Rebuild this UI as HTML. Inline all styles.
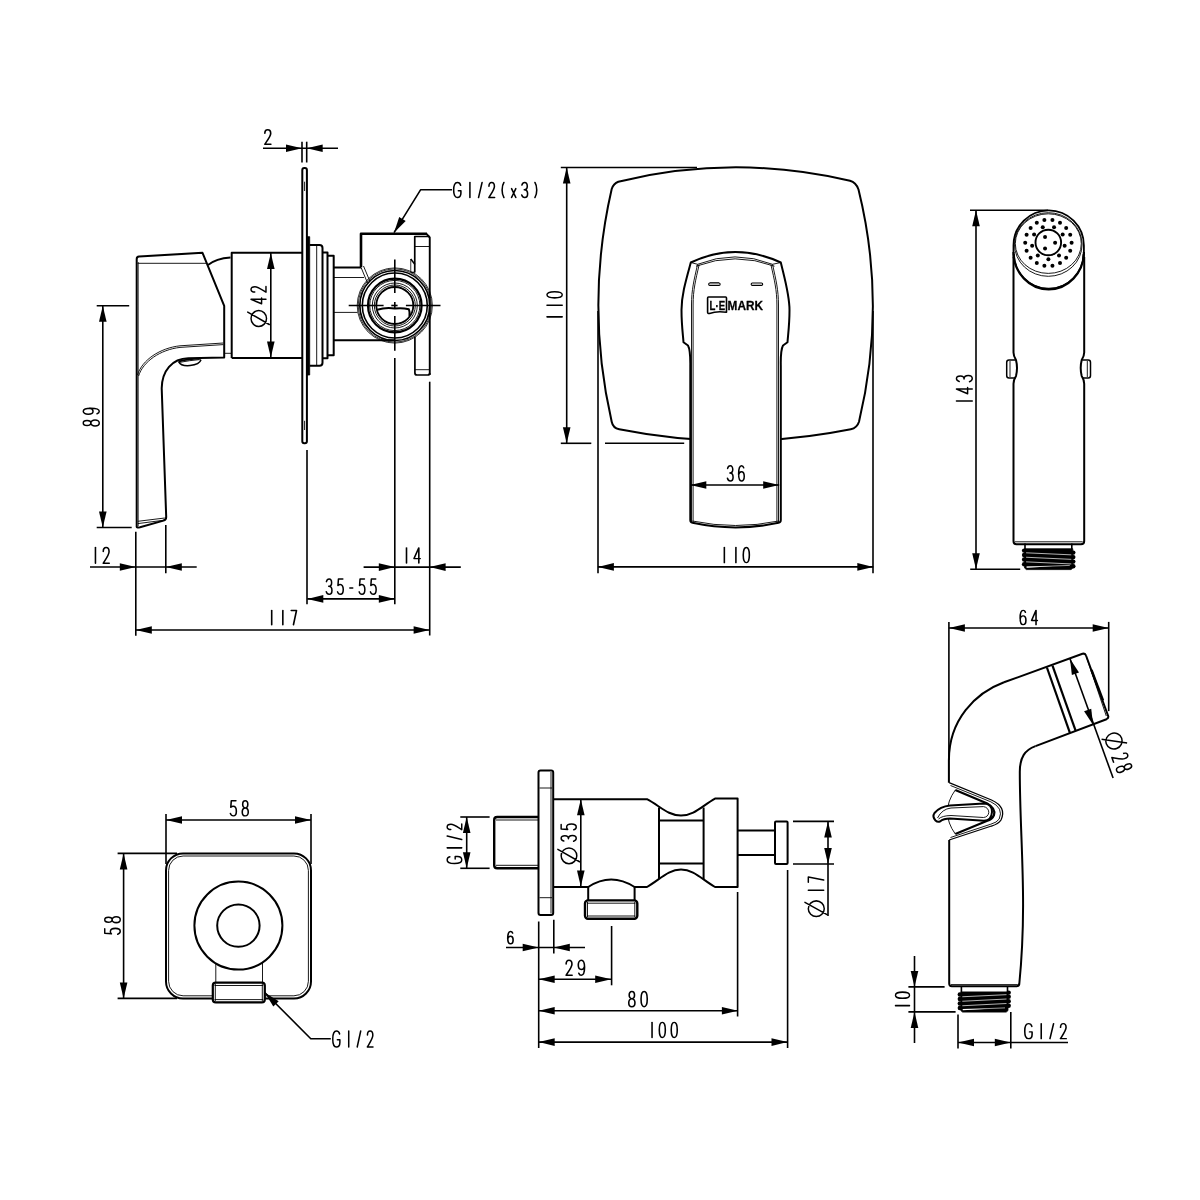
<!DOCTYPE html>
<html><head><meta charset="utf-8"><style>
html,body{margin:0;padding:0;background:#fff;width:1200px;height:1200px;overflow:hidden;font-family:"Liberation Sans",sans-serif;}
svg{display:block}
</style></head><body>
<svg width="1200" height="1200" viewBox="0 0 1200 1200">
<rect x="0" y="0" width="1200" height="1200" fill="#fff"/>
<g fill="none" stroke="#000" stroke-linecap="butt" stroke-linejoin="round">
<path d="M263,148.3 L338,148.3" stroke-width="1.6"/>
<path d="M302.00,148.30 L286.00,152.10 L286.00,144.50 Z" fill="#000" stroke="none"/>
<path d="M306.70,148.30 L322.70,144.50 L322.70,152.10 Z" fill="#000" stroke="none"/>
<path d="M302,141.7 L302,162.5" stroke-width="1.6"/>
<path d="M306.7,141.7 L306.7,162.5" stroke-width="1.6"/>
<g transform="translate(264.57,129.75) rotate(0) scale(1.0875,0.9062)" stroke-width="1.511" stroke-linecap="round"><g id="t0"><path transform="translate(0.00,0)" d="M0.249,4C0.249,1.5,1.33,0,2.9,0C4.56,0,5.64,1.5,5.64,4.2C5.64,7,4.56,8.5,0.166,16H5.81"/></g></g>
<rect x="302.3" y="168" width="4.6" height="275.3" rx="2" stroke-width="2.0"/>
<path d="M304.6,181.7 L304.6,191" stroke-width="0.9"/>
<path d="M304.6,420.8 L304.6,430" stroke-width="0.9"/>
<path d="M136.7,527 L136.7,259 Q136.7,256.7 139,256.6 L202.5,252.8 L224.2,305.8 L224.2,357.5 L188.3,358.3 C172,358.6 162,371 161.7,388.3 L166.2,517 Q166.2,520 163.5,520.6 L140,527.3 Q136.8,528 136.7,527 Z" stroke-width="2.0"/>
<path d="M137.5,263.3 L206.5,263.3" stroke-width="0.9"/>
<path d="M208,265 Q216,258.5 230.5,257.5" stroke-width="2.0"/>
<path d="M224.2,353.3 L231.7,353.3" stroke-width="0.9"/>
<path d="M223.3,343 L180,345.8 C160,348 142,360 137.5,375" stroke-width="0.9"/>
<path d="M223.3,344.6 L180,347.4 C160.5,349.6 143,361.5 138.6,376" stroke-width="0.9"/>
<path d="M178.6,361.6 Q181,366.5 190,365.6 Q199.5,364.6 201,359.8" stroke-width="1.5"/>
<path d="M180,362.3 Q189,360.5 199.5,359.6" stroke-width="0.9"/>
<path d="M178.6,361.6 Q186,359 201,358.6" stroke-width="1.8"/>
<path d="M137.8,521.3 L164.8,518.0" stroke-width="0.9"/>
<path d="M137.8,523.6 L164,520.2" stroke-width="0.9"/>
<path d="M138.3,262 V526" stroke-width="0.7"/>
<path d="M231.7,358 V252.8 H302.3" stroke-width="2.0"/>
<path d="M231.7,358 H302.3" stroke-width="2.0"/>
<path d="M270.8,253 L270.8,357.5" stroke-width="1.6"/>
<path d="M270.80,253.00 L274.60,269.00 L267.00,269.00 Z" fill="#000" stroke="none"/>
<path d="M270.80,357.50 L267.00,341.50 L274.60,341.50 Z" fill="#000" stroke="none"/>
<g transform="translate(251.02,326.50) rotate(-90) scale(0.9960,0.9348)" stroke-width="1.555" stroke-linecap="round"><g id="t1"><path transform="translate(0.00,0)" d="M8,0 C3.6,0 0,3.8 0,8.3 C0,12.8 3.6,16.6 8,16.6 C12.4,16.6 16,12.8 16,8.3 C16,3.8 12.4,0 8,0 Z M2,19.5 L14.5,-3.5"/><path transform="translate(22.80,0)" d="M4.48,16V0L0,11.3H5.81"/><path transform="translate(34.30,0)" d="M0.249,4C0.249,1.5,1.33,0,2.9,0C4.56,0,5.64,1.5,5.64,4.2C5.64,7,4.56,8.5,0.166,16H5.81"/></g></g>
<path d="M306.9,236.7 H309.7 V375 H306.9 Z" fill="#000" stroke="#000" stroke-width="0.8"/>
<path d="M309.7,245 H319.5 Q322.5,245 322.5,248 V362.8 Q322.5,365.8 319.5,365.8 H309.7" stroke-width="2.0"/>
<path d="M316.7,245 L316.7,365.8" stroke-width="0.9"/>
<path d="M322.5,252.5 H327.5 V358.3 H322.5" stroke-width="2.0"/>
<path d="M327.5,255.8 H333.7 V355.3 H327.5" stroke-width="2.0"/>
<path d="M333.7,267.5 H361" stroke-width="2.0"/>
<path d="M333.7,277.5 L364,277.5" stroke-width="0.9"/>
<path d="M333.7,312.4 L357.5,312.4" stroke-width="0.9"/>
<path d="M333.7,340.3 H395" stroke-width="2.0"/>
<path d="M361,267.3 L367.5,283" stroke-width="0.9"/>
<path d="M363.5,266 L370,281.5" stroke-width="0.9"/>
<path d="M361,267.3 V233.8 H427" stroke-width="2.6"/>
<path d="M426.5,233.8 L429.75,237.5 V375" stroke-width="1.9"/>
<path d="M414.75,272.5 V236.5 H429.75" stroke-width="1.7"/>
<path d="M414.75,246.5 L429.75,246.5" stroke-width="0.9"/>
<path d="M411,272.3 H414.75" stroke-width="1.2"/>
<path d="M414.9,336.5 V373 Q414.9,375 417,375 H427.7 Q429.75,375 429.75,373" stroke-width="1.7"/>
<path d="M415,369.7 L429.5,369.7" stroke-width="0.9"/>
<path d="M410.75,259 L415,264.5" stroke-width="1.5"/>
<path d="M410.75,259 V272" stroke-width="0.8"/>
<circle cx="394.8" cy="305.5" r="37.6" stroke-width="0.8"/>
<circle cx="394.8" cy="305.5" r="36.6" stroke-width="0.8"/>
<circle cx="394.8" cy="305.5" r="35.0" stroke-width="1.7"/>
<circle cx="394.8" cy="305.5" r="32.5" stroke-width="1.6"/>
<circle cx="394.8" cy="305.5" r="26.8" stroke-width="2.2"/>
<circle cx="394.8" cy="305.5" r="25.1" stroke-width="0.9"/>
<circle cx="394.8" cy="305.5" r="22.5" stroke-width="0.9"/>
<circle cx="394.8" cy="305.5" r="20.5" stroke-width="0.9"/>
<circle cx="394.8" cy="305.5" r="18.5" stroke-width="1.8"/>
<path d="M377.2,309.8 Q386,307 394.9,308.5 Q402,307.5 408.8,309.2 Q410,312 409.5,316" stroke-width="2.0"/>
<path d="M348.7,305.5 L383.6,305.5" stroke-width="1.6"/>
<path d="M391.3,305.5 L397.6,305.5" stroke-width="1.6"/>
<path d="M405.9,305.5 L440.5,305.5" stroke-width="1.6"/>
<path d="M394.8,259.6 L394.8,293" stroke-width="1.6"/>
<path d="M394.8,302 L394.8,309" stroke-width="1.6"/>
<path d="M394.8,316 L394.8,350.8" stroke-width="1.6"/>
<path d="M394.8,358 L394.8,604.3" stroke-width="1.6"/>
<path d="M452,189.7 H420.7 L394,232.7" stroke-width="1.6"/>
<path d="M394.00,232.70 L399.21,217.10 L405.67,221.11 Z" fill="#000" stroke="none"/>
<g transform="translate(453.65,182.45) rotate(0) scale(1.0159,0.9438)" stroke-width="1.532" stroke-linecap="round"><g id="t2"><path transform="translate(0.00,0)" d="M6.89,3C6.47,1,5.29,0,3.61,0C1.26,0,0,3,0,8C0,13,1.26,16,3.61,16C5.71,16,7.14,14.5,7.14,11.5V8.8H4.62"/><path transform="translate(12.00,0)" d="M4,0 V16"/><path transform="translate(23.00,0)" d="M1.5,16 L5,0"/><path transform="translate(34.50,0)" d="M0.249,4C0.249,1.5,1.33,0,2.9,0C4.56,0,5.64,1.5,5.64,4.2C5.64,7,4.56,8.5,0.166,16H5.81"/><path transform="translate(46.00,0)" d="M3.5,0 C1.1,4 1.1,12 3.5,16"/><path transform="translate(57.00,0)" d="M0,6.5 L4.2,16 M4.2,6.5 L0,16"/><path transform="translate(67.00,0)" d="M0.166,2.8C0.664,0.9,1.66,0,2.9,0C4.48,0,5.48,1.6,5.48,4C5.48,6.3,4.4,7.7,2.49,7.7C4.56,7.7,5.81,9.5,5.81,12C5.81,14.6,4.56,16,2.9,16C1.49,16,0.498,15,0,13.2"/><path transform="translate(78.50,0)" d="M1.5,0 C3.9,4 3.9,12 1.5,16"/></g></g>
<path d="M307,450 L307,604.3" stroke-width="1.6"/>
<path d="M429.7,381.7 L429.7,635.5" stroke-width="1.6"/>
<path d="M135.8,531.7 L135.8,635.8" stroke-width="1.6"/>
<path d="M165.8,525 L165.8,573.3" stroke-width="1.6"/>
<path d="M102.8,305.8 L102.8,527.5" stroke-width="1.6"/>
<path d="M96.7,305.8 L129.2,305.8" stroke-width="1.6"/>
<path d="M96.7,527.5 L131.7,527.5" stroke-width="1.6"/>
<path d="M102.80,305.80 L106.60,321.80 L99.00,321.80 Z" fill="#000" stroke="none"/>
<path d="M102.80,527.50 L99.00,511.50 L106.60,511.50 Z" fill="#000" stroke="none"/>
<g transform="translate(83.25,425.95) rotate(-90) scale(1.0225,1.0000)" stroke-width="1.483" stroke-linecap="round"><g id="t3"><path transform="translate(0.00,0)" d="M2.9,7.6C1.41,7.6,0.415,6.1,0.415,3.8C0.415,1.5,1.41,0,2.9,0C4.4,0,5.39,1.5,5.39,3.8C5.39,6.1,4.4,7.6,2.9,7.6C1.16,7.6,0,9.3,0,11.8C0,14.4,1.16,16,2.9,16C4.65,16,5.81,14.4,5.81,11.8C5.81,9.3,4.65,7.6,2.9,7.6Z"/><path transform="translate(11.50,0)" d="M0.498,13.8C0.913,15.2,1.74,16,2.82,16C4.73,16,5.81,13,5.81,7.5C5.81,2.4,4.65,0,2.9,0C1.16,0,0,1.9,0,5C0,8,1.16,9.8,2.9,9.8C4.32,9.8,5.39,8.5,5.81,6.5"/></g></g>
<path d="M90,567 L196.7,567" stroke-width="1.6"/>
<path d="M135.80,567.00 L119.80,570.80 L119.80,563.20 Z" fill="#000" stroke="none"/>
<path d="M165.80,567.00 L181.80,563.20 L181.80,570.80 Z" fill="#000" stroke="none"/>
<g transform="translate(91.14,547.50) rotate(0) scale(1.0773,0.9844)" stroke-width="1.457" stroke-linecap="round"><g id="t4"><path transform="translate(0.00,0)" d="M4,0 V16"/><path transform="translate(11.00,0)" d="M0.249,4C0.249,1.5,1.33,0,2.9,0C4.56,0,5.64,1.5,5.64,4.2C5.64,7,4.56,8.5,0.166,16H5.81"/></g></g>
<path d="M363.6,567.1 L460.8,567.1" stroke-width="1.6"/>
<path d="M394.80,567.10 L378.80,570.90 L378.80,563.30 Z" fill="#000" stroke="none"/>
<path d="M429.60,567.10 L445.60,563.30 L445.60,570.90 Z" fill="#000" stroke="none"/>
<g transform="translate(402.21,547.85) rotate(0) scale(1.0734,0.9500)" stroke-width="1.485" stroke-linecap="round"><g id="t5"><path transform="translate(0.00,0)" d="M4,0 V16"/><path transform="translate(11.00,0)" d="M4.48,16V0L0,11.3H5.81"/></g></g>
<path d="M307.3,598.9 L394.8,598.9" stroke-width="1.6"/>
<path d="M307.30,598.90 L323.30,595.10 L323.30,602.70 Z" fill="#000" stroke="none"/>
<path d="M394.80,598.90 L378.80,602.70 L378.80,595.10 Z" fill="#000" stroke="none"/>
<g transform="translate(326.25,578.95) rotate(0) scale(0.9821,0.9625)" stroke-width="1.543" stroke-linecap="round"><g id="t6"><path transform="translate(0.00,0)" d="M0.166,2.8C0.664,0.9,1.66,0,2.9,0C4.48,0,5.48,1.6,5.48,4C5.48,6.3,4.4,7.7,2.49,7.7C4.56,7.7,5.81,9.5,5.81,12C5.81,14.6,4.56,16,2.9,16C1.49,16,0.498,15,0,13.2"/><path transform="translate(11.50,0)" d="M5.39,0H0.913L0.415,6.9C0.996,6.2,1.83,5.8,2.74,5.8C4.65,5.8,5.81,7.9,5.81,11C5.81,14.1,4.56,16,2.9,16C1.49,16,0.498,15,0,13.4"/><path transform="translate(23.00,0)" d="M1,9.5 H4"/><path transform="translate(33.50,0)" d="M5.39,0H0.913L0.415,6.9C0.996,6.2,1.83,5.8,2.74,5.8C4.65,5.8,5.81,7.9,5.81,11C5.81,14.1,4.56,16,2.9,16C1.49,16,0.498,15,0,13.4"/><path transform="translate(45.00,0)" d="M5.39,0H0.913L0.415,6.9C0.996,6.2,1.83,5.8,2.74,5.8C4.65,5.8,5.81,7.9,5.81,11C5.81,14.1,4.56,16,2.9,16C1.49,16,0.498,15,0,13.4"/></g></g>
<path d="M135.8,630 L429.6,630" stroke-width="1.6"/>
<path d="M135.80,630.00 L151.80,626.20 L151.80,633.80 Z" fill="#000" stroke="none"/>
<path d="M429.60,630.00 L413.60,633.80 L413.60,626.20 Z" fill="#000" stroke="none"/>
<g transform="translate(267.65,610.50) rotate(0) scale(1.0122,0.8906)" stroke-width="1.580" stroke-linecap="round"><g id="t7"><path transform="translate(0.00,0)" d="M4,0 V16"/><path transform="translate(11.00,0)" d="M4,0 V16"/><path transform="translate(22.00,0)" d="M1.3,0 H6.5 L3.5,16"/></g></g>
<path d="M618.3,181.7 Q734,153.5 850,180.8 Q856,182.5 858.5,189.5 Q887,305 859,421.7 Q857,428 850.8,429.2 Q735,452.4 619.2,429.2 Q613,428 611.7,421.7 Q585,305 611.7,189 Q613.5,183.5 618.3,181.7 Z" stroke-width="2.0"/>
<path d="M690.8,262.5 Q735,241.5 780.8,262.5 C785,280 789.5,295 789.5,310 C789.5,325 788,335 787.5,342.3 L783,345.5 Q780.5,350 780.8,366 V520 Q780.8,522.3 778.5,522.8 Q735.5,532 692.5,522.8 Q690.3,522.3 690.3,520 V366 Q690.5,350 688,345.5 L683.5,342.3 C683,335 681.5,325 681.5,310 C681.5,295 686,280 690.8,262.5 Z" stroke-width="2.0" fill="#fff"/>
<path d="M697.6,264.3 Q735,249.5 772.5,264.3" stroke-width="0.9"/>
<path d="M696,266.2 Q735,251.5 774.5,266.2" stroke-width="0.9"/>
<path d="M690.8,262.5 L697.6,264.3 M780.8,262.5 L772.5,264.3" stroke-width="0.9"/>
<path d="M697.6,264.3 C694,280 691.5,290 691.5,305 V522" stroke-width="0.9"/>
<path d="M699.2,264.6 C695.6,280 693.1,290 693.1,305 V522" stroke-width="0.9"/>
<path d="M772.5,264.3 C776,280 778.5,290 778.5,305 V522" stroke-width="0.9"/>
<path d="M770.9,264.6 C774.4,280 776.9,290 776.9,305 V522" stroke-width="0.9"/>
<path d="M692.3,521 Q735.5,530 778.7,521" stroke-width="0.9"/>
<path d="M709.8,284.2 H719" stroke-width="3.6"/>
<path d="M709.8,284.2 H719" stroke-width="1.0"/>
<path d="M709.8,284.2 H719 M752.3,284.2 H761.5" stroke="#000" stroke-width="3.4" stroke-linecap="round"/>
<path d="M709.8,284.2 H719 M752.3,284.2 H761.5" stroke="#fff" stroke-width="1.2" stroke-linecap="round"/>
<path d="M708.5,297 H725.6 Q726.5,297 726.5,298 V312.3 Q717,310.8 709.5,313.4 Q707.6,313.8 707.6,312.3 V298 Q707.6,297 708.5,297 Z" stroke-width="1.6"/>
<g style="filter:grayscale(1)"><text x="709.6" y="309.6" font-family="Liberation Sans" font-weight="bold" font-size="12.6" fill="#000" stroke="#000" stroke-width="0.3" textLength="15.5" lengthAdjust="spacingAndGlyphs">L·E</text><text x="727.6" y="309.6" font-family="Liberation Sans" font-weight="bold" font-size="12.8" fill="#000" stroke="#000" stroke-width="0.3" textLength="35.4" lengthAdjust="spacingAndGlyphs">MARK</text></g>
<path d="M566.7,167.5 L566.7,443.3" stroke-width="1.6"/>
<path d="M560.8,167.5 L697,167.5" stroke-width="1.6"/>
<path d="M560.8,443.3 L591.3,443.3" stroke-width="1.6"/>
<path d="M605,443.3 L684.2,443.3" stroke-width="1.6"/>
<path d="M566.70,167.50 L570.50,183.50 L562.90,183.50 Z" fill="#000" stroke="none"/>
<path d="M566.70,443.30 L562.90,427.30 L570.50,427.30 Z" fill="#000" stroke="none"/>
<g transform="translate(546.95,321.07) rotate(-90) scale(1.0542,0.9562)" stroke-width="1.494" stroke-linecap="round"><g id="t8"><path transform="translate(0.00,0)" d="M4,0 V16"/><path transform="translate(11.00,0)" d="M4,0 V16"/><path transform="translate(22.00,0)" d="M2.9,0C0.996,0,0,3,0,8C0,13,0.996,16,2.9,16C4.81,16,5.81,13,5.81,8C5.81,3,4.81,0,2.9,0Z"/></g></g>
<path d="M598,311 L598,573.3" stroke-width="1.6"/>
<path d="M873,311 L873,573.3" stroke-width="1.6"/>
<path d="M597.9,566.9 L873.3,566.9" stroke-width="1.6"/>
<path d="M597.90,566.90 L613.90,563.10 L613.90,570.70 Z" fill="#000" stroke="none"/>
<path d="M873.30,566.90 L857.30,570.70 L857.30,563.10 Z" fill="#000" stroke="none"/>
<g transform="translate(720.15,547.50) rotate(0) scale(1.0500,0.9469)" stroke-width="1.504" stroke-linecap="round"><g id="t9"><path transform="translate(0.00,0)" d="M4,0 V16"/><path transform="translate(11.00,0)" d="M4,0 V16"/><path transform="translate(22.00,0)" d="M2.9,0C0.996,0,0,3,0,8C0,13,0.996,16,2.9,16C4.81,16,5.81,13,5.81,8C5.81,3,4.81,0,2.9,0Z"/></g></g>
<path d="M690.3,485 L779.2,485" stroke-width="1.6"/>
<path d="M690.30,485.00 L706.30,481.20 L706.30,488.80 Z" fill="#000" stroke="none"/>
<path d="M779.20,485.00 L763.20,488.80 L763.20,481.20 Z" fill="#000" stroke="none"/>
<g transform="translate(727.45,465.75) rotate(0) scale(0.9705,0.9500)" stroke-width="1.562" stroke-linecap="round"><g id="t10"><path transform="translate(0.00,0)" d="M0.166,2.8C0.664,0.9,1.66,0,2.9,0C4.48,0,5.48,1.6,5.48,4C5.48,6.3,4.4,7.7,2.49,7.7C4.56,7.7,5.81,9.5,5.81,12C5.81,14.6,4.56,16,2.9,16C1.49,16,0.498,15,0,13.2"/><path transform="translate(11.50,0)" d="M5.31,2.2C4.9,0.8,4.07,0,2.99,0C1.08,0,0,3,0,8.5C0,13.6,1.16,16,2.9,16C4.65,16,5.81,14.1,5.81,11C5.81,8,4.65,6.2,2.9,6.2C1.49,6.2,0.415,7.5,0,9.5"/></g></g>
<path d="M970,210.25 L1048,210.25" stroke-width="1.6"/>
<path d="M976,210.25 L976,569.2" stroke-width="1.6"/>
<path d="M976.00,210.25 L979.80,226.25 L972.20,226.25 Z" fill="#000" stroke="none"/>
<path d="M976.00,569.20 L972.20,553.20 L979.80,553.20 Z" fill="#000" stroke="none"/>
<path d="M970.2,569.2 L1020.2,569.2" stroke-width="1.6"/>
<g transform="translate(956.45,405.25) rotate(-90) scale(1.0490,0.9875)" stroke-width="1.474" stroke-linecap="round"><g id="t11"><path transform="translate(0.00,0)" d="M4,0 V16"/><path transform="translate(11.00,0)" d="M4.48,16V0L0,11.3H5.81"/><path transform="translate(22.50,0)" d="M0.166,2.8C0.664,0.9,1.66,0,2.9,0C4.48,0,5.48,1.6,5.48,4C5.48,6.3,4.4,7.7,2.49,7.7C4.56,7.7,5.81,9.5,5.81,12C5.81,14.6,4.56,16,2.9,16C1.49,16,0.498,15,0,13.2"/></g></g>
<path d="M1013.5,257.5 V245.5 A35.2,35.2 0 0 1 1083.9,245.5 V257.5" stroke-width="1.8"/>
<path d="M1013.5,252 A35.2,37.3 0 0 0 1083.9,252" stroke-width="2.2"/>
<path d="M1014.2,254 A34.5,34.5 0 0 0 1083.2,254" stroke-width="1.2"/>
<ellipse cx="1048.3" cy="244.5" rx="33.8" ry="31.8" stroke-width="0.9"/>
<ellipse cx="1048.3" cy="243.6" rx="33.0" ry="29.8" stroke-width="0.9"/>
<circle cx="1048.3" cy="242.5" r="12.8" stroke-width="1.9"/>
<circle cx="1071.60" cy="242.80" r="2.0" fill="#000" stroke="none"/>
<circle cx="1070.20" cy="250.73" r="2.0" fill="#000" stroke="none"/>
<circle cx="1066.17" cy="257.71" r="2.0" fill="#000" stroke="none"/>
<circle cx="1060.00" cy="262.89" r="2.0" fill="#000" stroke="none"/>
<circle cx="1052.43" cy="265.65" r="2.0" fill="#000" stroke="none"/>
<circle cx="1044.37" cy="265.65" r="2.0" fill="#000" stroke="none"/>
<circle cx="1036.80" cy="262.89" r="2.0" fill="#000" stroke="none"/>
<circle cx="1030.63" cy="257.71" r="2.0" fill="#000" stroke="none"/>
<circle cx="1026.60" cy="250.73" r="2.0" fill="#000" stroke="none"/>
<circle cx="1025.20" cy="242.80" r="2.0" fill="#000" stroke="none"/>
<circle cx="1026.60" cy="234.87" r="2.0" fill="#000" stroke="none"/>
<circle cx="1030.63" cy="227.89" r="2.0" fill="#000" stroke="none"/>
<circle cx="1036.80" cy="222.71" r="2.0" fill="#000" stroke="none"/>
<circle cx="1044.37" cy="219.95" r="2.0" fill="#000" stroke="none"/>
<circle cx="1052.43" cy="219.95" r="2.0" fill="#000" stroke="none"/>
<circle cx="1060.00" cy="222.71" r="2.0" fill="#000" stroke="none"/>
<circle cx="1066.17" cy="227.89" r="2.0" fill="#000" stroke="none"/>
<circle cx="1070.20" cy="234.87" r="2.0" fill="#000" stroke="none"/>
<circle cx="1048.40" cy="259.30" r="2.0" fill="#000" stroke="none"/>
<circle cx="1037.79" cy="255.44" r="2.0" fill="#000" stroke="none"/>
<circle cx="1032.15" cy="245.67" r="2.0" fill="#000" stroke="none"/>
<circle cx="1034.11" cy="234.55" r="2.0" fill="#000" stroke="none"/>
<circle cx="1042.76" cy="227.30" r="2.0" fill="#000" stroke="none"/>
<circle cx="1054.04" cy="227.30" r="2.0" fill="#000" stroke="none"/>
<circle cx="1062.69" cy="234.55" r="2.0" fill="#000" stroke="none"/>
<circle cx="1064.65" cy="245.67" r="2.0" fill="#000" stroke="none"/>
<circle cx="1059.01" cy="255.44" r="2.0" fill="#000" stroke="none"/>
<circle cx="1045.05" cy="237.00" r="2.0" fill="#000" stroke="none"/>
<circle cx="1055.10" cy="242.80" r="2.0" fill="#000" stroke="none"/>
<circle cx="1045.05" cy="248.60" r="2.0" fill="#000" stroke="none"/>
<path d="M1013.5,257 V352.5 Q1013.5,356 1016,360 Q1018,368 1016,376 Q1013.5,380 1013.5,383.8 V541 Q1013.5,544.3 1016.5,544.3 H1081 Q1084.2,544.3 1084.2,541 V383.8 Q1084.2,380 1081.7,376 Q1079.7,368 1081.7,360 Q1084.2,356 1084.2,352.5 V257" stroke-width="2.0"/>
<path d="M1015,541.8 L1082.7,541.8" stroke-width="0.9"/>
<path d="M1015.5,360 H1009 Q1006.7,360 1006.7,362.5 V375.5 Q1006.7,378 1009,378 H1015.5" stroke-width="1.5"/>
<path d="M1010,361 L1010,377" stroke-width="0.9"/>
<path d="M1082.2,360 H1088.3 Q1090.5,360 1090.5,362.5 V375.5 Q1090.5,378 1088.3,378 H1082.2" stroke-width="1.5"/>
<path d="M1087.3,361 L1087.3,377" stroke-width="0.9"/>
<path d="M1025,543.5 V549 M1071.8,543.5 V549" stroke-width="1.6"/>
<path d="M1024.6,548.75 H1072.8 V568.1 L1071.0,569.6 H1026.3999999999999 L1024.6,568.1 Z" fill="#000" stroke="#000" stroke-width="0.8"/>
<circle cx="1024.10" cy="550.60" r="2.2" fill="#000" stroke="none"/>
<circle cx="1024.10" cy="555.00" r="2.2" fill="#000" stroke="none"/>
<circle cx="1024.10" cy="559.50" r="2.2" fill="#000" stroke="none"/>
<circle cx="1024.10" cy="564.20" r="2.2" fill="#000" stroke="none"/>
<circle cx="1073.30" cy="552.60" r="2.2" fill="#000" stroke="none"/>
<circle cx="1073.30" cy="557.10" r="2.2" fill="#000" stroke="none"/>
<circle cx="1073.30" cy="561.60" r="2.2" fill="#000" stroke="none"/>
<circle cx="1073.30" cy="566.30" r="2.2" fill="#000" stroke="none"/>
<path d="M1026.10,552.80 L1071.30,554.85" stroke="#fff" stroke-width="0.7"/>
<path d="M1026.10,557.25 L1071.30,559.35" stroke="#fff" stroke-width="0.7"/>
<path d="M1026.10,561.85 L1071.30,563.95" stroke="#fff" stroke-width="0.7"/>
<path d="M1026.60,567.80 L1052.70,566.20 L1026.60,566.60 Z" fill="#fff" stroke="none"/>
<path d="M1026.60,567.00 L1069.80,565.40" stroke="#fff" stroke-width="0.6"/>
<path d="M166,820 L311,820" stroke-width="1.6"/>
<path d="M166,814 L166,864" stroke-width="1.6"/>
<path d="M311,814 L311,864" stroke-width="1.6"/>
<path d="M166.00,820.00 L182.00,816.20 L182.00,823.80 Z" fill="#000" stroke="none"/>
<path d="M311.00,820.00 L295.00,823.80 L295.00,816.20 Z" fill="#000" stroke="none"/>
<g transform="translate(230.35,800.75) rotate(0) scale(1.0341,0.9438)" stroke-width="1.518" stroke-linecap="round"><g id="t12"><path transform="translate(0.00,0)" d="M5.39,0H0.913L0.415,6.9C0.996,6.2,1.83,5.8,2.74,5.8C4.65,5.8,5.81,7.9,5.81,11C5.81,14.1,4.56,16,2.9,16C1.49,16,0.498,15,0,13.4"/><path transform="translate(11.50,0)" d="M2.9,7.6C1.41,7.6,0.415,6.1,0.415,3.8C0.415,1.5,1.41,0,2.9,0C4.4,0,5.39,1.5,5.39,3.8C5.39,6.1,4.4,7.6,2.9,7.6C1.16,7.6,0,9.3,0,11.8C0,14.4,1.16,16,2.9,16C4.65,16,5.81,14.4,5.81,11.8C5.81,9.3,4.65,7.6,2.9,7.6Z"/></g></g>
<path d="M123.6,853.4 L123.6,998.4" stroke-width="1.6"/>
<path d="M117.6,853.4 L177,853.4" stroke-width="1.6"/>
<path d="M117.6,998.4 L177,998.4" stroke-width="1.6"/>
<path d="M123.60,853.40 L127.40,869.40 L119.80,869.40 Z" fill="#000" stroke="none"/>
<path d="M123.60,998.40 L119.80,982.40 L127.40,982.40 Z" fill="#000" stroke="none"/>
<g transform="translate(104.75,934.25) rotate(-90) scale(1.0110,0.9688)" stroke-width="1.516" stroke-linecap="round"><g id="t13"><path transform="translate(0.00,0)" d="M5.39,0H0.913L0.415,6.9C0.996,6.2,1.83,5.8,2.74,5.8C4.65,5.8,5.81,7.9,5.81,11C5.81,14.1,4.56,16,2.9,16C1.49,16,0.498,15,0,13.4"/><path transform="translate(11.50,0)" d="M2.9,7.6C1.41,7.6,0.415,6.1,0.415,3.8C0.415,1.5,1.41,0,2.9,0C4.4,0,5.39,1.5,5.39,3.8C5.39,6.1,4.4,7.6,2.9,7.6C1.16,7.6,0,9.3,0,11.8C0,14.4,1.16,16,2.9,16C4.65,16,5.81,14.4,5.81,11.8C5.81,9.3,4.65,7.6,2.9,7.6Z"/></g></g>
<rect x="166" y="853.4" width="145" height="145" rx="17" stroke-width="2.0"/>
<rect x="168.6" y="856" width="139.8" height="139.8" rx="14.5" stroke-width="0.9"/>
<circle cx="238.4" cy="925.6" r="44" stroke-width="2.0"/>
<circle cx="238.4" cy="925.6" r="21.2" stroke-width="2.0"/>
<path d="M215.8,963 L215.8,982.5" stroke-width="0.9"/>
<path d="M262.5,963 L262.5,982.5" stroke-width="0.9"/>
<rect x="212.8" y="982.6" width="52" height="19.8" rx="3" fill="#fff" stroke-width="2.2"/>
<path d="M214.5,985.5 L263.2,985.5" stroke-width="0.9"/>
<path d="M214.5,999.6 L263.2,999.6" stroke-width="0.9"/>
<path d="M215.3,984 L215.3,1001" stroke-width="0.9"/>
<path d="M262.3,984 L262.3,1001" stroke-width="0.9"/>
<path d="M264.7,992.5 L310.8,1038.7 H330.8" stroke-width="1.6"/>
<path d="M264.70,992.50 L278.70,1001.13 L273.33,1006.50 Z" fill="#000" stroke="none"/>
<g transform="translate(332.75,1031.00) rotate(0) scale(0.9985,1.0000)" stroke-width="1.501" stroke-linecap="round"><g id="t14"><path transform="translate(0.00,0)" d="M6.89,3C6.47,1,5.29,0,3.61,0C1.26,0,0,3,0,8C0,13,1.26,16,3.61,16C5.71,16,7.14,14.5,7.14,11.5V8.8H4.62"/><path transform="translate(12.00,0)" d="M4,0 V16"/><path transform="translate(23.00,0)" d="M1.5,16 L5,0"/><path transform="translate(34.50,0)" d="M0.249,4C0.249,1.5,1.33,0,2.9,0C4.56,0,5.64,1.5,5.64,4.2C5.64,7,4.56,8.5,0.166,16H5.81"/></g></g>
<rect x="538.5" y="770.5" width="14.7" height="144.5" rx="2" stroke-width="2.0"/>
<path d="M551,772 L551,913.5" stroke-width="0.9"/>
<path d="M539.5,788 L552,788" stroke-width="0.9"/>
<path d="M539.5,897.7 L552,897.7" stroke-width="0.9"/>
<path d="M538.5,817 H497.2 Q494.2,817 494.2,820 V865.3 Q494.2,868.3 497.2,868.3 H538.5" stroke-width="2.4"/>
<path d="M496,820 L538.5,820" stroke-width="0.9"/>
<path d="M496,865.3 L538.5,865.3" stroke-width="0.9"/>
<path d="M466.7,817 L466.7,868.3" stroke-width="1.6"/>
<path d="M460.3,817 L489.6,817" stroke-width="1.6"/>
<path d="M460.3,868.3 L489.6,868.3" stroke-width="1.6"/>
<path d="M466.70,817.00 L470.50,833.00 L462.90,833.00 Z" fill="#000" stroke="none"/>
<path d="M466.70,868.30 L462.90,852.30 L470.50,852.30 Z" fill="#000" stroke="none"/>
<g transform="translate(447.15,863.55) rotate(-90) scale(0.9799,0.9125)" stroke-width="1.586" stroke-linecap="round"><g id="t15"><path transform="translate(0.00,0)" d="M6.89,3C6.47,1,5.29,0,3.61,0C1.26,0,0,3,0,8C0,13,1.26,16,3.61,16C5.71,16,7.14,14.5,7.14,11.5V8.8H4.62"/><path transform="translate(12.00,0)" d="M4,0 V16"/><path transform="translate(23.00,0)" d="M1.5,16 L5,0"/><path transform="translate(34.50,0)" d="M0.249,4C0.249,1.5,1.33,0,2.9,0C4.56,0,5.64,1.5,5.64,4.2C5.64,7,4.56,8.5,0.166,16H5.81"/></g></g>
<path d="M553.2,799.2 H647 C660,806 668,815.6 681,815.6 C694,815.6 702,806 715,798.6 H737.6 V887 H715 C702,879.6 694,869.6 681,869.6 C668,869.6 660,879.6 647,887 H634.6" stroke-width="2.0"/>
<path d="M659,807.5 L659,879" stroke-width="2.0"/>
<path d="M703.6,807.5 L703.6,879" stroke-width="2.0"/>
<path d="M659,820.4 L703.6,820.4" stroke-width="2.0"/>
<path d="M659,863.6 L703.6,863.6" stroke-width="2.0"/>
<path d="M588.2,887 H553.2" stroke-width="2.0"/>
<path d="M737.6,830.4 H775 M737.6,855 H775" stroke-width="2.0"/>
<rect x="775" y="821.4" width="12.6" height="42.6" rx="1" stroke-width="2.0"/>
<path d="M793,821.4 L834,821.4" stroke-width="1.6"/>
<path d="M793,864 L834,864" stroke-width="1.6"/>
<path d="M828,821.4 L828,916" stroke-width="1.6"/>
<path d="M828.00,821.40 L831.80,837.40 L824.20,837.40 Z" fill="#000" stroke="none"/>
<path d="M828.00,864.00 L824.20,848.00 L831.80,848.00 Z" fill="#000" stroke="none"/>
<g transform="translate(808.31,916.55) rotate(-90) scale(0.9801,0.9609)" stroke-width="1.546" stroke-linecap="round"><g id="t16"><path transform="translate(0.00,0)" d="M8,0 C3.6,0 0,3.8 0,8.3 C0,12.8 3.6,16.6 8,16.6 C12.4,16.6 16,12.8 16,8.3 C16,3.8 12.4,0 8,0 Z M2,19.5 L14.5,-3.5"/><path transform="translate(22.80,0)" d="M4,0 V16"/><path transform="translate(33.80,0)" d="M1.3,0 H6.5 L3.5,16"/></g></g>
<path d="M787.6,870 L787.6,1048" stroke-width="1.6"/>
<path d="M737.6,892 L737.6,1016.5" stroke-width="1.6"/>
<path d="M580.8,799.2 L580.8,886.6" stroke-width="1.6"/>
<path d="M580.80,799.20 L584.60,815.20 L577.00,815.20 Z" fill="#000" stroke="none"/>
<path d="M580.80,886.60 L577.00,870.60 L584.60,870.60 Z" fill="#000" stroke="none"/>
<g transform="translate(561.15,863.75) rotate(-90) scale(0.9898,0.9435)" stroke-width="1.552" stroke-linecap="round"><g id="t17"><path transform="translate(0.00,0)" d="M8,0 C3.6,0 0,3.8 0,8.3 C0,12.8 3.6,16.6 8,16.6 C12.4,16.6 16,12.8 16,8.3 C16,3.8 12.4,0 8,0 Z M2,19.5 L14.5,-3.5"/><path transform="translate(22.80,0)" d="M0.166,2.8C0.664,0.9,1.66,0,2.9,0C4.48,0,5.48,1.6,5.48,4C5.48,6.3,4.4,7.7,2.49,7.7C4.56,7.7,5.81,9.5,5.81,12C5.81,14.6,4.56,16,2.9,16C1.49,16,0.498,15,0,13.2"/><path transform="translate(34.30,0)" d="M5.39,0H0.913L0.415,6.9C0.996,6.2,1.83,5.8,2.74,5.8C4.65,5.8,5.81,7.9,5.81,11C5.81,14.1,4.56,16,2.9,16C1.49,16,0.498,15,0,13.4"/></g></g>
<path d="M588.2,887 Q611,872 634.6,887" stroke-width="2.0"/>
<path d="M588.2,886 L588.2,900.4" stroke-width="2.0"/>
<path d="M634.6,886 L634.6,900.4" stroke-width="2.0"/>
<rect x="585" y="900.4" width="52.3" height="18.4" rx="3" fill="#fff" stroke-width="2.4"/>
<path d="M587,903.2 L635.3,903.2" stroke-width="0.9"/>
<path d="M587,916 L635.3,916" stroke-width="0.9"/>
<path d="M587.5,902 L587.5,917" stroke-width="0.9"/>
<path d="M634.8,902 L634.8,917" stroke-width="0.9"/>
<path d="M538.7,921.5 L538.7,1048" stroke-width="1.6"/>
<path d="M553.8,919.7 L553.8,953.5" stroke-width="1.6"/>
<path d="M611.6,926 L611.6,985.3" stroke-width="1.6"/>
<path d="M506,947.5 L585,947.5" stroke-width="1.6"/>
<path d="M538.70,947.50 L522.70,951.30 L522.70,943.70 Z" fill="#000" stroke="none"/>
<path d="M553.80,947.50 L569.80,943.70 L569.80,951.30 Z" fill="#000" stroke="none"/>
<g transform="translate(507.75,931.45) rotate(0) scale(0.9225,0.7687)" stroke-width="1.781" stroke-linecap="round"><g id="t18"><path transform="translate(0.00,0)" d="M5.31,2.2C4.9,0.8,4.07,0,2.99,0C1.08,0,0,3,0,8.5C0,13.6,1.16,16,2.9,16C4.65,16,5.81,14.1,5.81,11C5.81,8,4.65,6.2,2.9,6.2C1.49,6.2,0.415,7.5,0,9.5"/></g></g>
<path d="M538.7,979.2 L611.2,979.2" stroke-width="1.6"/>
<path d="M538.70,979.20 L554.70,975.40 L554.70,983.00 Z" fill="#000" stroke="none"/>
<path d="M611.20,979.20 L595.20,983.00 L595.20,975.40 Z" fill="#000" stroke="none"/>
<g transform="translate(565.87,960.25) rotate(0) scale(1.0791,0.9375)" stroke-width="1.491" stroke-linecap="round"><g id="t19"><path transform="translate(0.00,0)" d="M0.249,4C0.249,1.5,1.33,0,2.9,0C4.56,0,5.64,1.5,5.64,4.2C5.64,7,4.56,8.5,0.166,16H5.81"/><path transform="translate(11.50,0)" d="M0.498,13.8C0.913,15.2,1.74,16,2.82,16C4.73,16,5.81,13,5.81,7.5C5.81,2.4,4.65,0,2.9,0C1.16,0,0,1.9,0,5C0,8,1.16,9.8,2.9,9.8C4.32,9.8,5.39,8.5,5.81,6.5"/></g></g>
<path d="M538.7,1010.7 L737.9,1010.7" stroke-width="1.6"/>
<path d="M538.70,1010.70 L554.70,1006.90 L554.70,1014.50 Z" fill="#000" stroke="none"/>
<path d="M737.90,1010.70 L721.90,1014.50 L721.90,1006.90 Z" fill="#000" stroke="none"/>
<g transform="translate(628.75,991.45) rotate(0) scale(1.0687,0.9562)" stroke-width="1.484" stroke-linecap="round"><g id="t20"><path transform="translate(0.00,0)" d="M2.9,7.6C1.41,7.6,0.415,6.1,0.415,3.8C0.415,1.5,1.41,0,2.9,0C4.4,0,5.39,1.5,5.39,3.8C5.39,6.1,4.4,7.6,2.9,7.6C1.16,7.6,0,9.3,0,11.8C0,14.4,1.16,16,2.9,16C4.65,16,5.81,14.4,5.81,11.8C5.81,9.3,4.65,7.6,2.9,7.6Z"/><path transform="translate(11.50,0)" d="M2.9,0C0.996,0,0,3,0,8C0,13,0.996,16,2.9,16C4.81,16,5.81,13,5.81,8C5.81,3,4.81,0,2.9,0Z"/></g></g>
<path d="M538.7,1042.1 L787.5,1042.1" stroke-width="1.6"/>
<path d="M538.70,1042.10 L554.70,1038.30 L554.70,1045.90 Z" fill="#000" stroke="none"/>
<path d="M787.50,1042.10 L771.50,1045.90 L771.50,1038.30 Z" fill="#000" stroke="none"/>
<g transform="translate(647.90,1022.35) rotate(0) scale(1.0366,0.9438)" stroke-width="1.517" stroke-linecap="round"><g id="t21"><path transform="translate(0.00,0)" d="M4,0 V16"/><path transform="translate(11.00,0)" d="M2.9,0C0.996,0,0,3,0,8C0,13,0.996,16,2.9,16C4.81,16,5.81,13,5.81,8C5.81,3,4.81,0,2.9,0Z"/><path transform="translate(22.50,0)" d="M2.9,0C0.996,0,0,3,0,8C0,13,0.996,16,2.9,16C4.81,16,5.81,13,5.81,8C5.81,3,4.81,0,2.9,0Z"/></g></g>
<path d="M948.9,628 L1108.7,628" stroke-width="1.6"/>
<path d="M948.9,621.9 L948.9,760" stroke-width="1.6"/>
<path d="M1108.7,621.9 L1108.7,711.1" stroke-width="1.6"/>
<path d="M948.90,628.00 L964.90,624.20 L964.90,631.80 Z" fill="#000" stroke="none"/>
<path d="M1108.70,628.00 L1092.70,631.80 L1092.70,624.20 Z" fill="#000" stroke="none"/>
<g transform="translate(1020.15,610.35) rotate(0) scale(0.9936,0.8937)" stroke-width="1.592" stroke-linecap="round"><g id="t22"><path transform="translate(0.00,0)" d="M5.31,2.2C4.9,0.8,4.07,0,2.99,0C1.08,0,0,3,0,8.5C0,13.6,1.16,16,2.9,16C4.65,16,5.81,14.1,5.81,11C5.81,8,4.65,6.2,2.9,6.2C1.49,6.2,0.415,7.5,0,9.5"/><path transform="translate(11.50,0)" d="M4.48,16V0L0,11.3H5.81"/></g></g>
<path d="M1004,682.3 L1082.5,653.8 Q1085.2,653 1086,655.5 L1108.2,716 Q1108.8,718.2 1106.5,719.2 L1035.5,746.1" stroke-width="2.0"/>
<path d="M1086.6,657.5 L1106.3,716" stroke-width="0.9"/>
<path d="M1091.5,670 L1103,700.5" stroke-width="2.4"/>
<path d="M1046.9,667.5 L1070,733.1" stroke-width="2.2"/>
<path d="M1052.5,665.6 L1075.6,730.6" stroke-width="2.2"/>
<path d="M1070,658.75 L1113.1,778.1" stroke-width="1.6"/>
<path d="M1070.00,658.75 L1079.01,672.51 L1071.86,675.09 Z" fill="#000" stroke="none"/>
<path d="M1093.10,725.00 L1084.09,711.24 L1091.24,708.66 Z" fill="#000" stroke="none"/>
<g transform="translate(1119.0,730.8) rotate(70.1) scale(0.9875)" stroke-width="1.519"><g id="t23"><path transform="translate(0.00,0)" d="M8,0 C3.6,0 0,3.8 0,8.3 C0,12.8 3.6,16.6 8,16.6 C12.4,16.6 16,12.8 16,8.3 C16,3.8 12.4,0 8,0 Z M2,19.5 L14.5,-3.5"/><path transform="translate(22.80,0)" d="M0.249,4C0.249,1.5,1.33,0,2.9,0C4.56,0,5.64,1.5,5.64,4.2C5.64,7,4.56,8.5,0.166,16H5.81"/><path transform="translate(34.30,0)" d="M2.9,7.6C1.41,7.6,0.415,6.1,0.415,3.8C0.415,1.5,1.41,0,2.9,0C4.4,0,5.39,1.5,5.39,3.8C5.39,6.1,4.4,7.6,2.9,7.6C1.16,7.6,0,9.3,0,11.8C0,14.4,1.16,16,2.9,16C4.65,16,5.81,14.4,5.81,11.8C5.81,9.3,4.65,7.6,2.9,7.6Z"/></g></g>
<path d="M1004,682.3 C975,693 949,720 948.9,760 V782.7" stroke-width="2.0"/>
<path d="M1035.5,746.1 C1025,750 1019.8,757 1019.8,772 C1019.8,840 1027.5,900 1019.3,984 Q1019,986.2 1016.5,986.2 H951.8 Q949.2,986.2 949.2,983.5 V840" stroke-width="2.0"/>
<path d="M951,984.6 L1017.8,984.6" stroke-width="0.9"/>
<path d="M949.1,782.7 L991.5,800 Q1007,807 1001,820 Q998.5,824 991.5,826 L949.1,840" stroke-width="1.3"/>
<path d="M950.5,785.5 L990.8,801.8 Q1004,808 999.2,819 Q997,822.5 990.8,824.2 L950.5,837.5" stroke-width="0.9"/>
<path d="M955.3,790 L986.7,803.3 Q996,808.5 994,815 Q992.5,819 986.7,820.9 L955.3,834" stroke-width="2.2"/>
<path d="M955.3,790 Q939.5,812 955.3,834" stroke-width="0.9"/>
<path d="M935.5,820.5 Q932,816.5 934.5,813 Q940,806.5 950,805.5 L984,803.5 Q992,803.5 992,812 Q991.5,820.5 984,820.8 L950,818.5 Q943.5,818.5 940,821.5 Q937.5,822.5 935.5,820.5 Z" fill="#fff" stroke-width="2.0"/>
<path d="M937.5,818 Q942,809 951,808 L983.5,806.6 Q988.5,807.5 988.8,812.3 Q988.3,817 983.5,817.5 L951,815.5 Q942,815.7 938.5,819" stroke-width="0.9"/>
<path d="M961.4,986.5 V992 M1007.5,986.5 V992" stroke-width="1.6"/>
<path d="M960.8,991.9 H1008 V1010.6 L1006.2,1012.1 H962.5999999999999 L960.8,1010.6 Z" fill="#000" stroke="#000" stroke-width="0.8"/>
<circle cx="959.80" cy="994.50" r="2.2" fill="#000" stroke="none"/>
<circle cx="959.80" cy="999.00" r="2.2" fill="#000" stroke="none"/>
<circle cx="959.80" cy="1003.50" r="2.2" fill="#000" stroke="none"/>
<circle cx="959.80" cy="1008.00" r="2.2" fill="#000" stroke="none"/>
<circle cx="1008.70" cy="992.60" r="2.2" fill="#000" stroke="none"/>
<circle cx="1008.70" cy="996.75" r="2.2" fill="#000" stroke="none"/>
<circle cx="1008.70" cy="1001.25" r="2.2" fill="#000" stroke="none"/>
<circle cx="1008.70" cy="1005.75" r="2.2" fill="#000" stroke="none"/>
<path d="M962.30,996.75 L1006.50,994.67" stroke="#fff" stroke-width="0.7"/>
<path d="M962.30,1001.25 L1006.50,999.00" stroke="#fff" stroke-width="0.7"/>
<path d="M962.30,1005.75 L1006.50,1003.50" stroke="#fff" stroke-width="0.7"/>
<path d="M962.80,1010.30 L988.40,1008.70 L962.80,1009.10 Z" fill="#fff" stroke="none"/>
<path d="M962.80,1009.50 L1005.00,1007.90" stroke="#fff" stroke-width="0.6"/>
<path d="M914.5,956 L914.5,1043" stroke-width="1.6"/>
<path d="M908.4,986.9 L944.6,986.9" stroke-width="1.6"/>
<path d="M908.4,1011.9 L955.6,1011.9" stroke-width="1.6"/>
<path d="M914.50,986.90 L910.70,970.90 L918.30,970.90 Z" fill="#000" stroke="none"/>
<path d="M914.50,1011.90 L918.30,1027.90 L910.70,1027.90 Z" fill="#000" stroke="none"/>
<g transform="translate(895.45,1009.88) rotate(-90) scale(1.0575,0.8812)" stroke-width="1.554" stroke-linecap="round"><g id="t24"><path transform="translate(0.00,0)" d="M4,0 V16"/><path transform="translate(11.00,0)" d="M2.9,0C0.996,0,0,3,0,8C0,13,0.996,16,2.9,16C4.81,16,5.81,13,5.81,8C5.81,3,4.81,0,2.9,0Z"/></g></g>
<path d="M958,1014.6 L958,1048.6" stroke-width="1.6"/>
<path d="M1010.8,1012 L1010.8,1048.6" stroke-width="1.6"/>
<path d="M958,1042.5 L1068,1042.5" stroke-width="1.6"/>
<path d="M958.00,1042.50 L974.00,1038.70 L974.00,1046.30 Z" fill="#000" stroke="none"/>
<path d="M1010.80,1042.50 L994.80,1046.30 L994.80,1038.70 Z" fill="#000" stroke="none"/>
<g transform="translate(1024.75,1023.65) rotate(0) scale(1.0295,0.9375)" stroke-width="1.527" stroke-linecap="round"><g id="t25"><path transform="translate(0.00,0)" d="M6.89,3C6.47,1,5.29,0,3.61,0C1.26,0,0,3,0,8C0,13,1.26,16,3.61,16C5.71,16,7.14,14.5,7.14,11.5V8.8H4.62"/><path transform="translate(12.00,0)" d="M4,0 V16"/><path transform="translate(23.00,0)" d="M1.5,16 L5,0"/><path transform="translate(34.50,0)" d="M0.249,4C0.249,1.5,1.33,0,2.9,0C4.56,0,5.64,1.5,5.64,4.2C5.64,7,4.56,8.5,0.166,16H5.81"/></g></g>
</g>
</svg>
</body></html>
